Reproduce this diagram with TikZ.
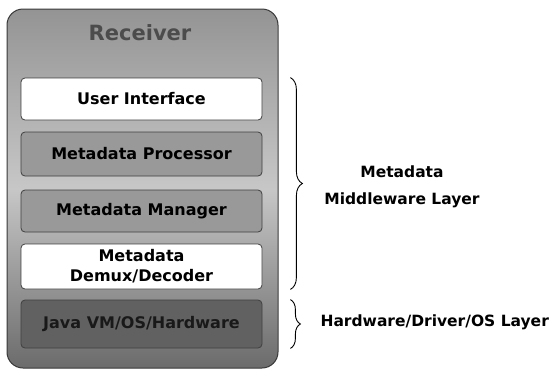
\documentclass[tikz,border=0pt]{standalone}
\usepackage{fontspec}
\setmainfont{DejaVu Sans}
\usetikzlibrary{decorations.pathreplacing}
\begin{document}
\begin{tikzpicture}[x=1pt,y=-1pt,
  layerbox/.style={draw=black!75, line width=0.8pt, rounded corners=4pt, minimum width=241pt, inner sep=0pt, font=\bfseries\fontsize{16}{20}\selectfont, align=center},
  lightbox/.style={layerbox, fill=white},
  midbox/.style={layerbox, fill=black!40},
  darkbox/.style={layerbox, fill=black!62, text=black!90},
  bracestyle/.style={decorate, decoration={brace, amplitude=12pt}, line width=0.9pt},
  lbl/.style={font=\bfseries\fontsize{15.5}{27}\selectfont, align=center}]
\useasboundingbox (0,0) rectangle (550,373);
\shade[rounded corners=16pt, top color=black!42, bottom color=black!58, middle color=black!22, draw=black!78, line width=1pt] (7,9) rectangle (278,368);
\node[font=\bfseries\fontsize{21}{24}\selectfont, text=black!70] (title) at (140,33) {Receiver};
\node[lightbox, minimum height=42pt] (ui) at (141.5,99) {User Interface};
\node[midbox, minimum height=44pt] (mp) at (141.5,154) {Metadata Processor};
\node[midbox, minimum height=42pt] (mm) at (141.5,211) {Metadata Manager};
\node[lightbox, minimum height=45pt] (demux) at (141.5,266.5) {Metadata\\Demux/Decoder};
\node[darkbox, minimum height=48pt] (java) at (141.5,324) {Java VM/OS/Hardware};
\draw[bracestyle] ([xshift=28pt]ui.north east) -- ([xshift=28pt]demux.south east);
\draw[bracestyle, decoration={amplitude=10pt}] ([xshift=28pt]java.north east) -- ([xshift=28pt]java.south east);
\node[lbl] (mw) at (402,187) {Metadata\\Middleware Layer};
\node[lbl, anchor=west] (hw) at (317,322) {Hardware/Driver/OS Layer};
\end{tikzpicture}
\end{document}
